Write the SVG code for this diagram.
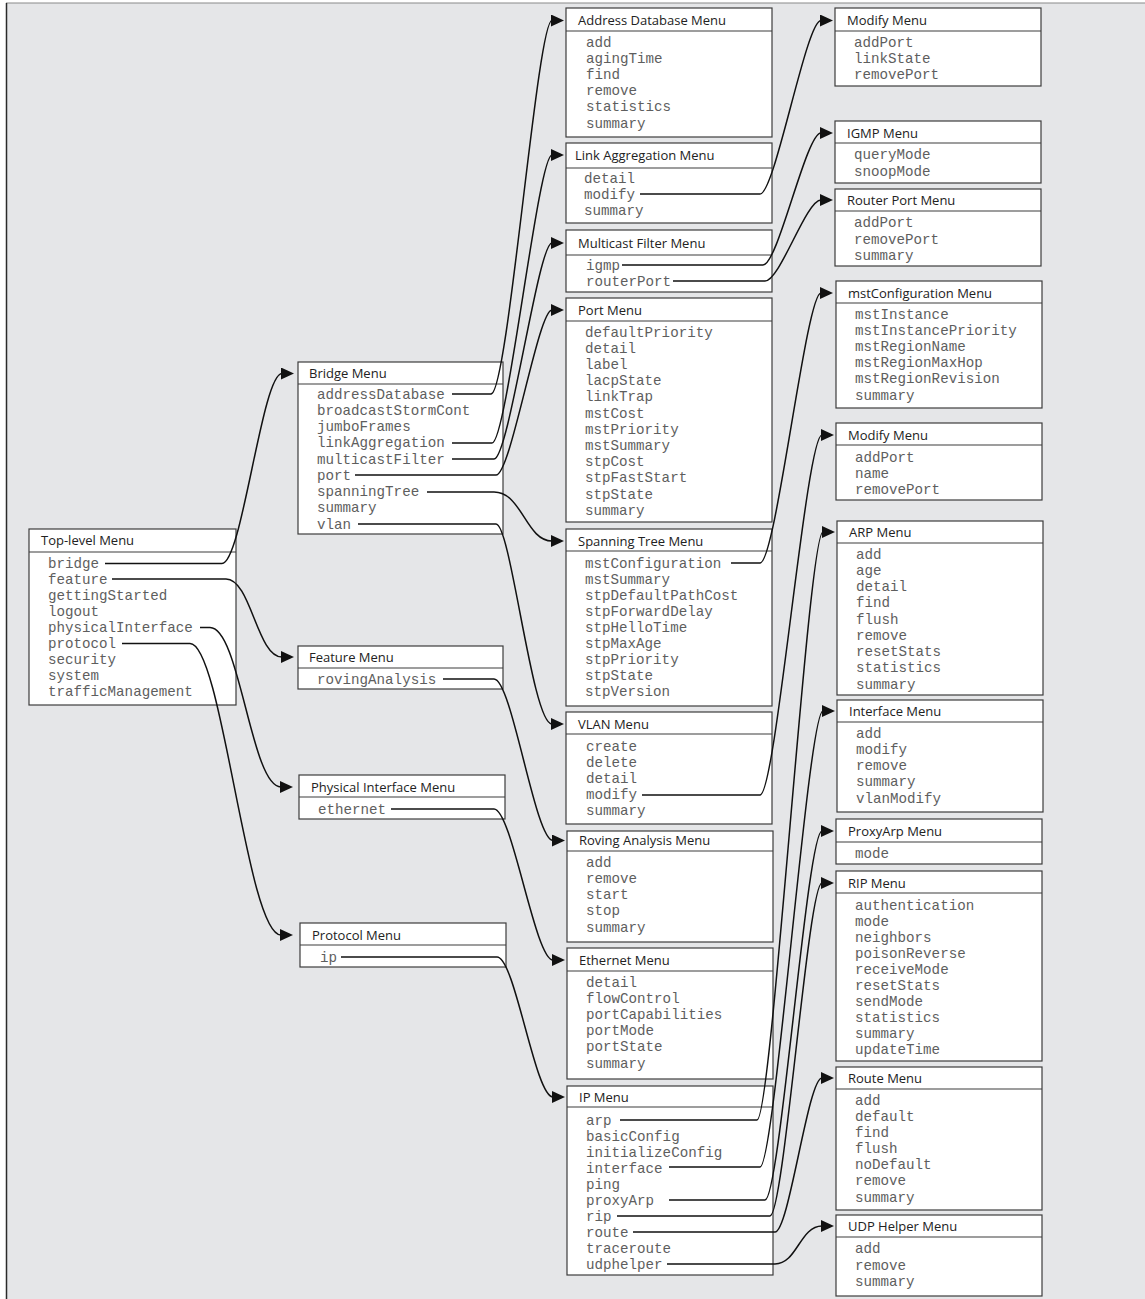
<svg xmlns="http://www.w3.org/2000/svg" width="1145" height="1299" viewBox="0 0 1145 1299">
<defs>
<style>
.bg{fill:#e5e6e8}
.box{fill:#fff;stroke:#3c3c3c;stroke-width:1.2}
.sep{stroke:#3c3c3c;stroke-width:1.2}
.hd{font-family:"Open Sans","Noto Sans","Liberation Sans",sans-serif;font-size:13px;fill:#222}
.it{font-family:"Liberation Mono","DejaVu Sans Mono",monospace;font-size:14.2px;fill:#5e5e5e}
.conn{fill:none;stroke:#111;stroke-width:1.5;marker-end:url(#arr)}
</style>
<marker id="arr" markerUnits="userSpaceOnUse" markerWidth="13" markerHeight="12" viewBox="0 0 13 12" refX="1" refY="6" orient="auto">
<path d="M0,0 L13,6 L0,12 z" fill="#111"/>
</marker>
</defs>
<rect class="bg" x="7" y="3" width="1138" height="1296"/>
<line x1="6" y1="3" x2="1145" y2="3" stroke="#8a8a8a" stroke-width="1.2"/>
<line x1="6.5" y1="3" x2="6.5" y2="1299" stroke="#2a2a2a" stroke-width="1.5"/>

<g id="toplevel">
<rect class="box" x="29" y="529" width="207" height="176"/>
<line class="sep" x1="29" y1="552" x2="236" y2="552"/>
<text class="hd" x="41" y="544.6">Top-level Menu</text>
<text class="it"><tspan x="48" y="567.5">bridge</tspan><tspan x="48" y="583.6">feature</tspan><tspan x="48" y="599.7">gettingStarted</tspan><tspan x="48" y="615.8">logout</tspan><tspan x="48" y="631.9">physicalInterface</tspan><tspan x="48" y="648">protocol</tspan><tspan x="48" y="664.1">security</tspan><tspan x="48" y="680.2">system</tspan><tspan x="48" y="696.3">trafficManagement</tspan></text>
</g>

<g id="bridge">
<rect class="box" x="298" y="362" width="205" height="172"/>
<line class="sep" x1="298" y1="384" x2="503" y2="384"/>
<text class="hd" x="309" y="377.6">Bridge Menu</text>
<text class="it"><tspan x="317" y="398.5">addressDatabase</tspan><tspan x="317" y="414.75">broadcastStormCont</tspan><tspan x="317" y="431">jumboFrames</tspan><tspan x="317" y="447.25">linkAggregation</tspan><tspan x="317" y="463.5">multicastFilter</tspan><tspan x="317" y="479.75">port</tspan><tspan x="317" y="496">spanningTree</tspan><tspan x="317" y="512.25">summary</tspan><tspan x="317" y="528.5">vlan</tspan></text>
</g>

<g id="feature">
<rect class="box" x="298" y="646" width="205" height="43"/>
<line class="sep" x1="298" y1="668" x2="503" y2="668"/>
<text class="hd" x="309" y="661.6">Feature Menu</text>
<text class="it" x="317" y="683.5">rovingAnalysis</text>
</g>

<g id="physical">
<rect class="box" x="299" y="775" width="206" height="44"/>
<line class="sep" x1="299" y1="797" x2="505" y2="797"/>
<text class="hd" x="311" y="791.6">Physical Interface Menu</text>
<text class="it" x="318" y="813.5">ethernet</text>
</g>

<g id="protocol">
<rect class="box" x="300" y="923" width="206" height="44"/>
<line class="sep" x1="300" y1="945" x2="506" y2="945"/>
<text class="hd" x="312" y="939.6">Protocol Menu</text>
<text class="it" x="320" y="961.5">ip</text>
</g>

<g id="addressdb">
<rect class="box" x="566" y="8" width="206" height="129"/>
<line class="sep" x1="566" y1="31" x2="772" y2="31"/>
<text class="hd" x="578" y="25">Address Database Menu</text>
<text class="it"><tspan x="586" y="46.5">add</tspan><tspan x="586" y="62.7">agingTime</tspan><tspan x="586" y="78.9">find</tspan><tspan x="586" y="95.1">remove</tspan><tspan x="586" y="111.3">statistics</tspan><tspan x="586" y="127.5">summary</tspan></text>
</g>

<g id="linkagg">
<rect class="box" x="566" y="143" width="206" height="80"/>
<line class="sep" x1="566" y1="168" x2="772" y2="168"/>
<text class="hd" x="575" y="159.6">Link Aggregation Menu</text>
<text class="it"><tspan x="584" y="182.5">detail</tspan><tspan x="584" y="198.8">modify</tspan><tspan x="584" y="215.1">summary</tspan></text>
</g>

<g id="multicast">
<rect class="box" x="566" y="230" width="206" height="62"/>
<line class="sep" x1="566" y1="255" x2="772" y2="255"/>
<text class="hd" x="578" y="247.6">Multicast Filter Menu</text>
<text class="it"><tspan x="586" y="269.5">igmp</tspan><tspan x="586" y="285.5">routerPort</tspan></text>
</g>

<g id="port">
<rect class="box" x="566" y="298" width="206" height="224"/>
<line class="sep" x1="566" y1="321" x2="772" y2="321"/>
<text class="hd" x="578" y="314.6">Port Menu</text>
<text class="it"><tspan x="585" y="336.5">defaultPriority</tspan><tspan x="585" y="352.7">detail</tspan><tspan x="585" y="368.9">label</tspan><tspan x="585" y="385.1">lacpState</tspan><tspan x="585" y="401.3">linkTrap</tspan><tspan x="585" y="417.5">mstCost</tspan><tspan x="585" y="433.7">mstPriority</tspan><tspan x="585" y="449.9">mstSummary</tspan><tspan x="585" y="466.1">stpCost</tspan><tspan x="585" y="482.3">stpFastStart</tspan><tspan x="585" y="498.5">stpState</tspan><tspan x="585" y="514.7">summary</tspan></text>
</g>

<g id="spanningtree">
<rect class="box" x="566" y="529" width="206" height="177"/>
<line class="sep" x1="566" y1="551" x2="772" y2="551"/>
<text class="hd" x="578" y="545.6">Spanning Tree Menu</text>
<text class="it"><tspan x="585" y="567.5">mstConfiguration</tspan><tspan x="585" y="583.6">mstSummary</tspan><tspan x="585" y="599.7">stpDefaultPathCost</tspan><tspan x="585" y="615.8">stpForwardDelay</tspan><tspan x="585" y="631.9">stpHelloTime</tspan><tspan x="585" y="648">stpMaxAge</tspan><tspan x="585" y="664.1">stpPriority</tspan><tspan x="585" y="680.2">stpState</tspan><tspan x="585" y="696.3">stpVersion</tspan></text>
</g>

<g id="vlan">
<rect class="box" x="566" y="712" width="206" height="112"/>
<line class="sep" x1="566" y1="734" x2="772" y2="734"/>
<text class="hd" x="578" y="728.6">VLAN Menu</text>
<text class="it"><tspan x="586" y="750.5">create</tspan><tspan x="586" y="766.7">delete</tspan><tspan x="586" y="782.9">detail</tspan><tspan x="586" y="799.1">modify</tspan><tspan x="586" y="815.3">summary</tspan></text>
</g>

<g id="roving">
<rect class="box" x="567" y="831" width="206" height="111"/>
<line class="sep" x1="567" y1="851" x2="773" y2="851"/>
<text class="hd" x="579" y="845">Roving Analysis Menu</text>
<text class="it"><tspan x="586" y="866.5">add</tspan><tspan x="586" y="882.75">remove</tspan><tspan x="586" y="899">start</tspan><tspan x="586" y="915.25">stop</tspan><tspan x="586" y="931.5">summary</tspan></text>
</g>

<g id="ethernet">
<rect class="box" x="567" y="948" width="206" height="131"/>
<line class="sep" x1="567" y1="971" x2="773" y2="971"/>
<text class="hd" x="579" y="964.6">Ethernet Menu</text>
<text class="it"><tspan x="586" y="986.5">detail</tspan><tspan x="586" y="1002.7">flowControl</tspan><tspan x="586" y="1018.9">portCapabilities</tspan><tspan x="586" y="1035.1">portMode</tspan><tspan x="586" y="1051.3">portState</tspan><tspan x="586" y="1067.5">summary</tspan></text>
</g>

<g id="ip">
<rect class="box" x="567" y="1086" width="206" height="189"/>
<line class="sep" x1="567" y1="1107" x2="773" y2="1107"/>
<text class="hd" x="579" y="1101.6">IP Menu</text>
<text class="it"><tspan x="586" y="1124.5">arp</tspan><tspan x="586" y="1140.5">basicConfig</tspan><tspan x="586" y="1156.5">initializeConfig</tspan><tspan x="586" y="1172.5">interface</tspan><tspan x="586" y="1188.5">ping</tspan><tspan x="586" y="1204.5">proxyArp</tspan><tspan x="586" y="1220.5">rip</tspan><tspan x="586" y="1236.5">route</tspan><tspan x="586" y="1252.5">traceroute</tspan><tspan x="586" y="1268.5">udphelper</tspan></text>
</g>

<g id="modify1">
<rect class="box" x="835" y="8" width="206" height="78"/>
<line class="sep" x1="835" y1="31" x2="1041" y2="31"/>
<text class="hd" x="847" y="25">Modify Menu</text>
<text class="it"><tspan x="854" y="46.5">addPort</tspan><tspan x="854" y="62.5">linkState</tspan><tspan x="854" y="78.5">removePort</tspan></text>
</g>

<g id="igmp">
<rect class="box" x="835" y="121" width="206" height="62"/>
<line class="sep" x1="835" y1="143" x2="1041" y2="143"/>
<text class="hd" x="847" y="137.6">IGMP Menu</text>
<text class="it"><tspan x="854" y="158.5">queryMode</tspan><tspan x="854" y="175.5">snoopMode</tspan></text>
</g>

<g id="routerport">
<rect class="box" x="835" y="189" width="206" height="77"/>
<line class="sep" x1="835" y1="211" x2="1041" y2="211"/>
<text class="hd" x="847" y="204.6">Router Port Menu</text>
<text class="it"><tspan x="854" y="226.5">addPort</tspan><tspan x="854" y="243.5">removePort</tspan><tspan x="854" y="259.5">summary</tspan></text>
</g>

<g id="mstconfig">
<rect class="box" x="836" y="281" width="206" height="127"/>
<line class="sep" x1="836" y1="303" x2="1042" y2="303"/>
<text class="hd" x="848" y="297.6">mstConfiguration Menu</text>
<text class="it"><tspan x="855" y="318.5">mstInstance</tspan><tspan x="855" y="334.7">mstInstancePriority</tspan><tspan x="855" y="350.9">mstRegionName</tspan><tspan x="855" y="367.1">mstRegionMaxHop</tspan><tspan x="855" y="383.3">mstRegionRevision</tspan><tspan x="855" y="399.5">summary</tspan></text>
</g>

<g id="modify2">
<rect class="box" x="836" y="423" width="206" height="77"/>
<line class="sep" x1="836" y1="445" x2="1042" y2="445"/>
<text class="hd" x="848" y="439.6">Modify Menu</text>
<text class="it"><tspan x="855" y="461.5">addPort</tspan><tspan x="855" y="477.5">name</tspan><tspan x="855" y="493.5">removePort</tspan></text>
</g>

<g id="arp">
<rect class="box" x="837" y="521" width="206" height="174"/>
<line class="sep" x1="837" y1="543" x2="1043" y2="543"/>
<text class="hd" x="849" y="536.6">ARP Menu</text>
<text class="it"><tspan x="856" y="558.5">add</tspan><tspan x="856" y="574.75">age</tspan><tspan x="856" y="591">detail</tspan><tspan x="856" y="607.25">find</tspan><tspan x="856" y="623.5">flush</tspan><tspan x="856" y="639.75">remove</tspan><tspan x="856" y="656">resetStats</tspan><tspan x="856" y="672.25">statistics</tspan><tspan x="856" y="688.5">summary</tspan></text>
</g>

<g id="interface">
<rect class="box" x="837" y="700" width="206" height="112"/>
<line class="sep" x1="837" y1="722" x2="1043" y2="722"/>
<text class="hd" x="849" y="715.6">Interface Menu</text>
<text class="it"><tspan x="856" y="737.5">add</tspan><tspan x="856" y="753.75">modify</tspan><tspan x="856" y="770">remove</tspan><tspan x="856" y="786.25">summary</tspan><tspan x="856" y="802.5">vlanModify</tspan></text>
</g>

<g id="proxyarp">
<rect class="box" x="836" y="819" width="206" height="45"/>
<line class="sep" x1="836" y1="842" x2="1042" y2="842"/>
<text class="hd" x="848" y="835.6">ProxyArp Menu</text>
<text class="it" x="855" y="857.5">mode</text>
</g>

<g id="rip">
<rect class="box" x="836" y="871" width="206" height="190"/>
<line class="sep" x1="836" y1="893" x2="1042" y2="893"/>
<text class="hd" x="848" y="887.6">RIP Menu</text>
<text class="it"><tspan x="855" y="909.5">authentication</tspan><tspan x="855" y="925.6">mode</tspan><tspan x="855" y="941.7">neighbors</tspan><tspan x="855" y="957.8">poisonReverse</tspan><tspan x="855" y="973.9">receiveMode</tspan><tspan x="855" y="990">resetStats</tspan><tspan x="855" y="1006.1">sendMode</tspan><tspan x="855" y="1022.2">statistics</tspan><tspan x="855" y="1038.3">summary</tspan><tspan x="855" y="1054.4">updateTime</tspan></text>
</g>

<g id="route">
<rect class="box" x="836" y="1067" width="206" height="143"/>
<line class="sep" x1="836" y1="1089" x2="1042" y2="1089"/>
<text class="hd" x="848" y="1082.6">Route Menu</text>
<text class="it"><tspan x="855" y="1104.5">add</tspan><tspan x="855" y="1120.7">default</tspan><tspan x="855" y="1136.8">find</tspan><tspan x="855" y="1153">flush</tspan><tspan x="855" y="1169.2">noDefault</tspan><tspan x="855" y="1185.4">remove</tspan><tspan x="855" y="1201.5">summary</tspan></text>
</g>

<g id="udphelper">
<rect class="box" x="836" y="1215" width="206" height="81"/>
<line class="sep" x1="836" y1="1237" x2="1042" y2="1237"/>
<text class="hd" x="848" y="1230.6">UDP Helper Menu</text>
<text class="it"><tspan x="855" y="1252.5">add</tspan><tspan x="855" y="1269.5">remove</tspan><tspan x="855" y="1285.5">summary</tspan></text>
</g>

<g id="connectors">
<path class="conn" d="M105,563.5 H222 C242,563.5 262,373.5 282,373.5"/>
<path class="conn" d="M112,579 H226 C251,579 257,657 282,657"/>
<path class="conn" d="M200,627.5 H210 C240,627.5 251,787 281,787"/>
<path class="conn" d="M122,643.5 H190 C222,643.5 247,935 281,935"/>
<path class="conn" d="M452,394 H491 C508,394 537,20.5 552,20.5"/>
<path class="conn" d="M452,443 H492 C507,443 538,155 552,155"/>
<path class="conn" d="M452,459 H494 C509,459 538,243 552,243"/>
<path class="conn" d="M355,475 H496 C511,475 538,310 552,310"/>
<path class="conn" d="M427,492 H494 C522,492 526,541 552,541"/>
<path class="conn" d="M358,524 H496 C511,524 532,724 552,724"/>
<path class="conn" d="M443,679 H494 C512,679 535,840.5 553,840.5"/>
<path class="conn" d="M391,809 H494 C512,809 535,960 553,960"/>
<path class="conn" d="M341,957 H497 C515,957 535,1097 553,1097"/>
<path class="conn" d="M640,194 H760 C775,194 806,20.5 821,20.5"/>
<path class="conn" d="M622,265 H763 C778,265 806,133 821,133"/>
<path class="conn" d="M673,281 H765 C780,281 806,200 821,200"/>
<path class="conn" d="M731,563 H760 C776,563 806,293 821,293"/>
<path class="conn" d="M642,795 H760 C776,795 806,435 822,435"/>
<path class="conn" d="M620,1120 H757 C772,1120 808,532 823,532"/>
<path class="conn" d="M669,1167 H760 C775,1167 808,711 823,711"/>
<path class="conn" d="M669,1200 H765 C780,1200 807,831 822,831"/>
<path class="conn" d="M617,1216 H770 C784,1216 808,883 822,883"/>
<path class="conn" d="M633,1232 H775 C789,1232 808,1078 822,1078"/>
<path class="conn" d="M667,1264 H775 C797,1264 800,1226 822,1226"/>
</g>
</svg>
